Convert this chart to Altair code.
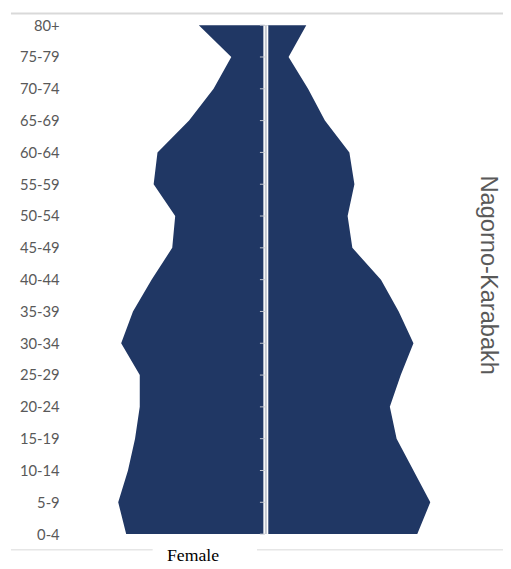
import altair as alt
import pandas as pd

ages = ["80+", "75-79", "70-74", "65-69", "60-64", "55-59", "50-54", "45-49",
        "40-44", "35-39", "30-34", "25-29", "20-24", "15-19", "10-14", "5-9", "0-4"]
female = [2.27, 1.17, 1.77, 2.6, 3.67, 3.8, 3.07, 3.17, 3.87, 4.5, 4.9, 4.27,
          4.27, 4.43, 4.67, 5.0, 4.73]
male = [1.37, 0.77, 1.43, 2.0, 2.83, 3.0, 2.77, 2.93, 3.9, 4.5, 5.0, 4.57,
        4.2, 4.43, 5.0, 5.57, 5.13]

df = pd.DataFrame({"age": ages, "female": [-v for v in female], "male": male})
one = pd.DataFrame({"k": [0]})

W, H = 497, 543
xs = alt.Scale(domain=[-8.633, 7.933], nice=False, zero=False)
ys = alt.Scale(type="point", domain=ages, padding=0.4)
yaxis = alt.Axis(title=None, grid=False, domain=False, ticks=False, tickSize=0,
                 labelPadding=-49, labelAlign="right", labelFont="Lato",
                 labelFontSize=15, labelColor="#595959")

area = alt.Chart(df).mark_area(orient="horizontal", color="#203764", interpolate="linear").encode(
    y=alt.Y("age:N", scale=ys, axis=yaxis, sort=ages),
    x=alt.X("female:Q", scale=xs, axis=None),
    x2="male:Q",
)

gap = alt.Chart(one).mark_rule(color="white", strokeWidth=5).encode(
    x=alt.datum(0),
    y=alt.datum("80+"),
    y2=alt.datum("0-4"),
)
axisline = alt.Chart(one).mark_rule(color="#c3c7cf", strokeWidth=2).encode(
    x=alt.datum(0),
    y=alt.datum("80+"),
    y2=alt.datum("0-4"),
)
ticks = alt.Chart(df).mark_rule(color="#c3c7cf", strokeWidth=1, xOffset=-6, x2Offset=-1).encode(
    x=alt.datum(0),
    x2=alt.datum(0),
    y=alt.Y("age:N", sort=ages),
)

topline = alt.Chart(one).mark_rule(color="#d9d9d9", strokeWidth=2).encode(
    x=alt.value(0), x2=alt.value(W + 3), y=alt.value(1)
)
bot1 = alt.Chart(one).mark_rule(color="#e6e6e6", strokeWidth=1.5).encode(
    x=alt.value(0), x2=alt.value(144), y=alt.value(H + 3)
)
bot2 = alt.Chart(one).mark_rule(color="#e6e6e6", strokeWidth=1.5).encode(
    x=alt.value(250), x2=alt.value(W + 3), y=alt.value(H + 3)
)
female_lbl = alt.Chart(one).mark_text(text="Female", font="Liberation Serif", fontSize=18,
                                      color="#000000", align="center", baseline="alphabetic").encode(
    x=alt.value(185), y=alt.value(H + 14)
)
title = alt.Chart(one).mark_text(text="Nagorno-Karabakh", font="Liberation Sans", fontSize=24,
                                 color="#595959", angle=90, align="center", baseline="middle").encode(
    x=alt.value(485), y=alt.value(267)
)

chart = alt.layer(area, gap, axisline, ticks, topline, bot1, bot2, female_lbl, title).properties(
    width=W, height=H,
    autosize=alt.AutoSizeParams(type="none"),
    padding={"left": 3, "top": 0, "right": 3, "bottom": 18},
).configure_view(stroke=None)

chart.save("out.html", embed_options={"renderer": "svg", "actions": False})
